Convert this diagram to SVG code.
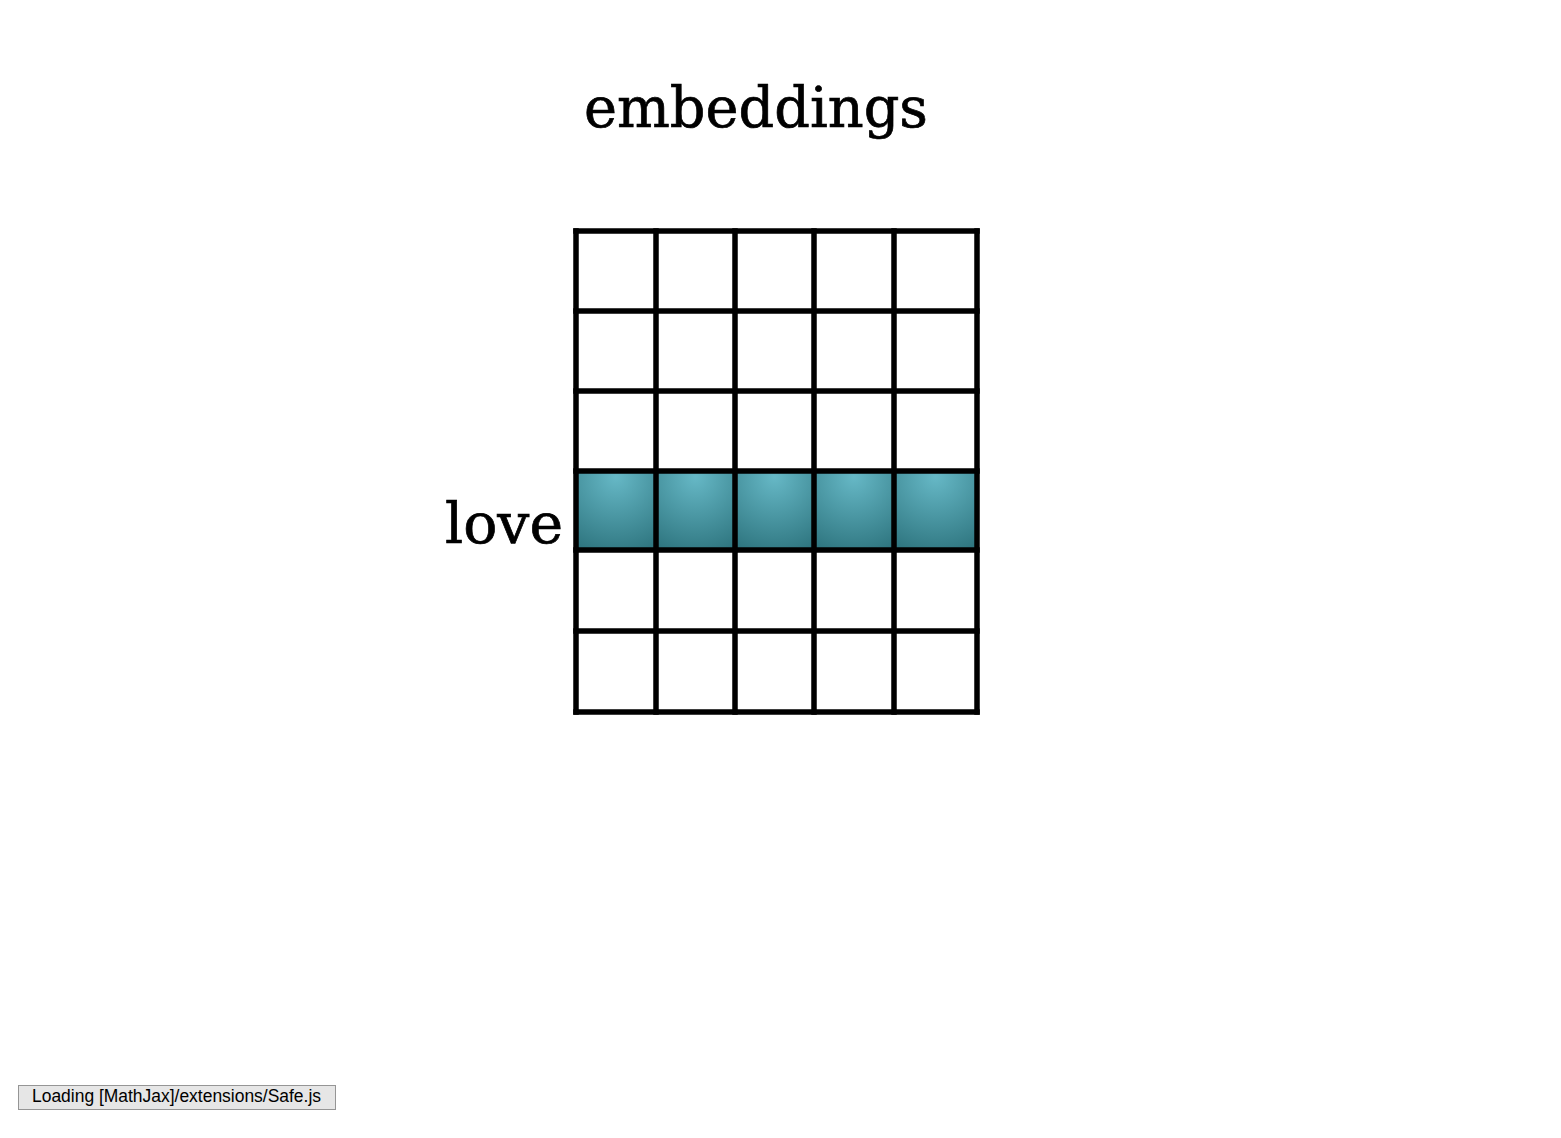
<svg xmlns="http://www.w3.org/2000/svg" width="1561" height="1138" viewBox="0 0 1561 1138">
<style>
.t{font-family:"DejaVu Serif","Liberation Serif",serif;fill:#000;stroke:#000;stroke-width:0.7}
.g{stroke:#000;stroke-width:5.5;fill:none;stroke-linecap:square}
.cell{fill:url(#teal)}
</style>
<defs>
<radialGradient id="teal" cx="0.5" cy="0.1" r="1" fx="0.5" fy="0.05">
<stop offset="0" stop-color="#66b8c6"/>
<stop offset="1" stop-color="#2f7680"/>
</radialGradient>
</defs>
<rect width="1561" height="1138" fill="#fff"/>
<text class="t" x="584" y="127" font-size="56" textLength="344" lengthAdjust="spacingAndGlyphs">embeddings</text>
<g id="love-label"><text class="t" x="445" y="543" font-size="56" textLength="118" lengthAdjust="spacingAndGlyphs">love</text></g>
<g id="grid">
<g id="love-row">
<rect class="cell" x="578" y="473" width="76" height="75"/>
<rect class="cell" x="658" y="473" width="75" height="75"/>
<rect class="cell" x="737" y="473" width="75" height="75"/>
<rect class="cell" x="816" y="473" width="76" height="75"/>
<rect class="cell" x="896" y="473" width="79" height="75"/>
</g>
<path class="g" d="M576 231H977M576 311H977M576 391H977M576 471H977M576 550H977M576 631H977M576 712H977"/>
<path class="g" d="M576 231V712M656 231V712M735 231V712M814 231V712M894 231V712M977 231V712"/>
</g>
<g id="loading">
<rect x="18.5" y="1085.5" width="317" height="24" fill="#e6e6e6" stroke="#959595"/>
<text x="32" y="1102" font-family="Liberation Sans,Arial,sans-serif" font-size="17.5" fill="#000" textLength="289" lengthAdjust="spacingAndGlyphs">Loading [MathJax]/extensions/Safe.js</text>
</g>
</svg>
